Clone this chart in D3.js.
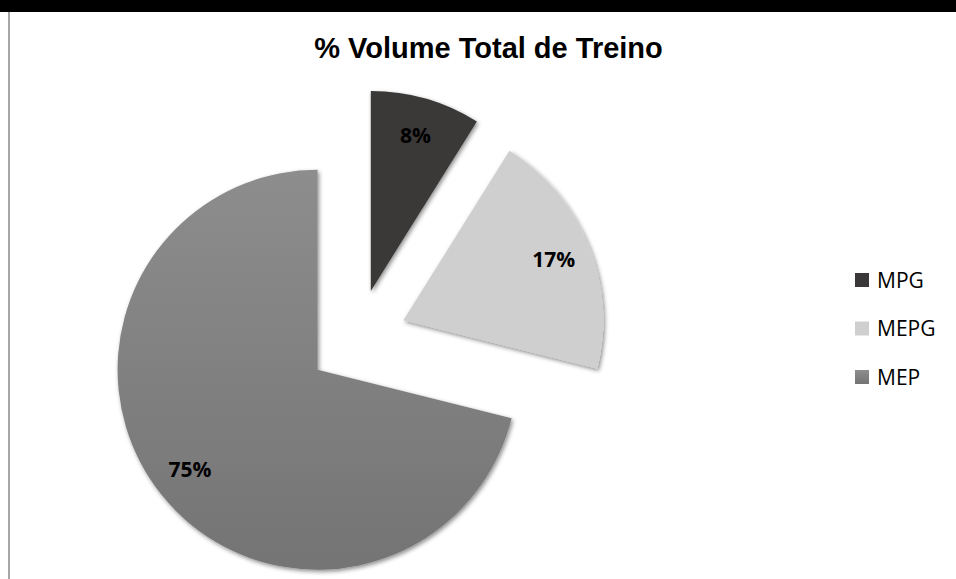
<!DOCTYPE html>
<meta charset="utf-8">
<script src="https://d3js.org/d3.v7.min.js"></script>
<style>
  body { margin: 0; background: #fff; }
  svg { display: block; }
</style>
<body>
<script>
  // slice shares as drawn (angles) and the printed labels
  var categories = ["MPG", "MEPG", "MEP"];
  var shares = [8.9, 20.0, 71.1];
  var labels = ["8%", "17%", "75%"];
  var colors = ["#3a3838", "#d0cfcf", "url(#gradMEP)"];
  var legendColors = ["#3a3838", "#d0cfcf", "url(#gradMEPlegend)"];

  var width = 956, height = 579;
  var cx = 357, cy = 339, radius = 200, explode = 50;

  var svg = d3.select("body").append("svg")
      .attr("width", width)
      .attr("height", height);

  var defs = svg.append("defs");

  var g1 = defs.append("linearGradient")
      .attr("id", "gradMEP")
      .attr("x1", 0).attr("y1", 0).attr("x2", 0).attr("y2", 1);
  g1.append("stop").attr("offset", "0%").attr("stop-color", "#8d8d8d");
  g1.append("stop").attr("offset", "100%").attr("stop-color", "#747474");

  var g2 = defs.append("linearGradient")
      .attr("id", "gradMEPlegend")
      .attr("x1", 0).attr("y1", 0).attr("x2", 0).attr("y2", 1);
  g2.append("stop").attr("offset", "0%").attr("stop-color", "#8d8d8d");
  g2.append("stop").attr("offset", "100%").attr("stop-color", "#747474");

  var shadow = defs.append("filter")
      .attr("id", "shadow")
      .attr("x", "-10%").attr("y", "-10%")
      .attr("width", "120%").attr("height", "120%");
  shadow.append("feDropShadow")
      .attr("dx", 1.5).attr("dy", 2)
      .attr("stdDeviation", 2)
      .attr("flood-color", "#000")
      .attr("flood-opacity", 0.45);

  // frame: black strip on top, grey line on the left
  svg.append("rect")
      .attr("x", 0).attr("y", 0)
      .attr("width", width).attr("height", 12)
      .attr("fill", "#000");
  svg.append("rect")
      .attr("x", 8).attr("y", 12)
      .attr("width", 2).attr("height", height - 12)
      .attr("fill", "#a6a6a6");

  svg.append("text")
      .attr("x", 488.5)
      .attr("y", 58)
      .attr("text-anchor", "middle")
      .attr("font-family", "'Liberation Sans', Arial, sans-serif")
      .attr("font-weight", "bold")
      .attr("font-size", 29)
      .attr("fill", "#000")
      .text("% Volume Total de Treino");

  var pie = d3.pie().sort(null).value(function(d) { return d; });
  var arcs = pie(shares);

  var arc = d3.arc().innerRadius(0).outerRadius(radius);
  var labelArc = d3.arc().innerRadius(162).outerRadius(162);

  function offset(d) {
    var a = (d.startAngle + d.endAngle) / 2;
    return [Math.sin(a) * explode, -Math.cos(a) * explode];
  }

  var slices = svg.selectAll(".slice")
      .data(arcs)
      .enter()
      .append("g")
      .attr("class", "slice")
      .attr("transform", function(d) {
        var o = offset(d);
        return "translate(" + (cx + o[0]) + "," + (cy + o[1]) + ")";
      });

  slices.append("path")
      .attr("d", arc)
      .attr("fill", function(d, i) { return colors[i]; })
      .attr("filter", "url(#shadow)");

  slices.append("text")
      .attr("transform", function(d) {
        return "translate(" + labelArc.centroid(d) + ")";
      })
      .attr("dy", "0.36em")
      .attr("text-anchor", "middle")
      .attr("font-family", "'Open Sans', sans-serif")
      .attr("font-weight", "bold")
      .attr("font-size", 21)
      .attr("fill", "#000")
      .text(function(d, i) { return labels[i]; });

  var legendY = d3.scalePoint()
      .domain(categories)
      .range([280, 377]);

  var legend = svg.selectAll(".legend")
      .data(categories)
      .enter()
      .append("g")
      .attr("class", "legend")
      .attr("transform", function(d) {
        return "translate(855," + legendY(d) + ")";
      });

  legend.append("rect")
      .attr("x", 0).attr("y", -7)
      .attr("width", 14).attr("height", 14)
      .attr("fill", function(d, i) { return legendColors[i]; });

  legend.append("text")
      .attr("x", 22)
      .attr("y", 0)
      .attr("dy", "0.36em")
      .attr("font-family", "'Open Sans', sans-serif")
      .attr("font-size", 21)
      .attr("fill", "#000")
      .text(function(d) { return d; });
</script>
</body>
